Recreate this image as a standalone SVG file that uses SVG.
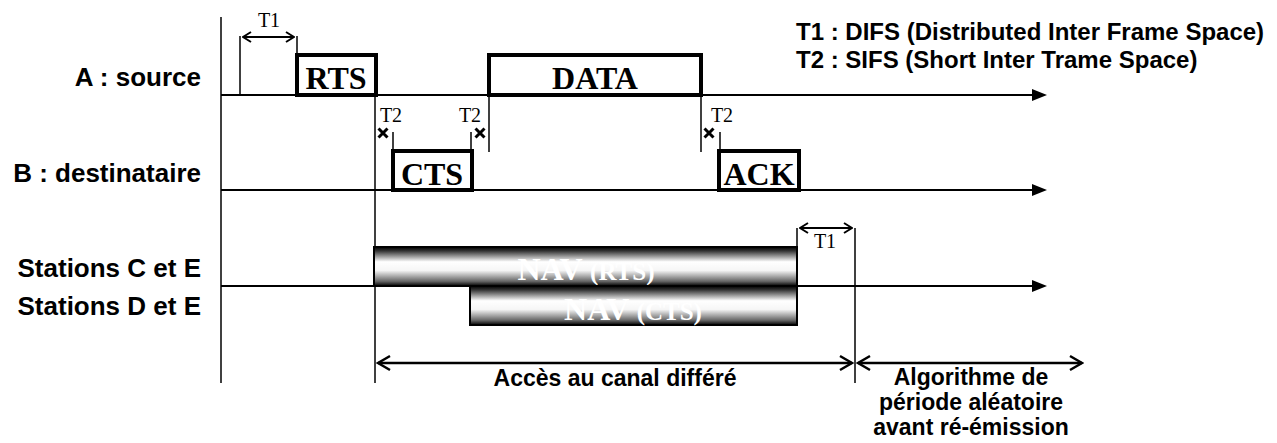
<svg xmlns="http://www.w3.org/2000/svg" width="1277" height="443" viewBox="0 0 1277 443">
<style>
.lbl{font-family:"Liberation Sans",Arial,sans-serif;font-weight:bold;font-size:26px;fill:#000}
.leg{font-family:"Liberation Sans",Arial,sans-serif;font-weight:bold;font-size:24px;fill:#000}
.bot{font-family:"Liberation Sans",Arial,sans-serif;font-weight:bold;font-size:23px;fill:#000;text-anchor:middle}
.frm{font-family:"Liberation Serif","Times New Roman",serif;font-weight:bold;font-size:32px;fill:#000;text-anchor:middle}
.nav{font-family:"Liberation Serif","Times New Roman",serif;font-weight:bold;font-size:32px;fill:#fff;text-anchor:middle}
.tt{font-family:"Liberation Serif","Times New Roman",serif;font-size:20px;fill:#000}
.box{fill:#fff;stroke:#000;stroke-width:4}
.bar{fill:url(#g);stroke:#000;stroke-width:2}
.tl{stroke:#000;stroke-width:2;fill:none}
.vl{stroke:#000;stroke-width:1.5;fill:none}
.dim{stroke:#000;stroke-width:2.5;fill:none}
.dims{stroke:#000;stroke-width:2;fill:none}
.xm{stroke:#000;stroke-width:3;fill:none}
</style>
<defs>
<linearGradient id="g" x1="0" y1="0" x2="0" y2="1">
<stop offset="0" stop-color="#000"/>
<stop offset="0.1" stop-color="#333"/>
<stop offset="0.38" stop-color="#fff"/>
<stop offset="0.6" stop-color="#f6f6f6"/>
<stop offset="0.88" stop-color="#666"/>
<stop offset="1" stop-color="#000"/>
</linearGradient>
<marker id="tri" viewBox="0 0 15 12" refX="0" refY="6" markerWidth="15" markerHeight="12" markerUnits="userSpaceOnUse" orient="auto"><path d="M0,0 L15,6 L0,12z" fill="#000"/></marker>
<marker id="chev" viewBox="0 0 16 18" refX="14" refY="9" markerWidth="16" markerHeight="18" markerUnits="userSpaceOnUse" orient="auto-start-reverse"><path d="M2,2 L14,9 L2,16" fill="none" stroke="#000" stroke-width="2.5"/></marker>
<marker id="chs" viewBox="0 0 10 12" refX="9" refY="6" markerWidth="10" markerHeight="12" markerUnits="userSpaceOnUse" orient="auto-start-reverse"><path d="M1,1 L9,6 L1,11" fill="none" stroke="#000" stroke-width="2"/></marker>
<path id="x" d="M-4.5,-4.5 L4.5,4.5 M-4.5,4.5 L4.5,-4.5"/>
</defs>
<rect width="1277" height="443" fill="#fff"/>

<g id="connectors">
<line class="vl" x1="221" y1="17" x2="221" y2="383"/>
<line class="tl" x1="221" y1="95" x2="1032" y2="95" marker-end="url(#tri)"/>
<line class="tl" x1="221" y1="190" x2="1032" y2="190" marker-end="url(#tri)"/>
<line class="tl" x1="221" y1="286" x2="1032" y2="286" marker-end="url(#tri)"/>
<line class="vl" x1="240" y1="36" x2="240" y2="95"/>
<line class="vl" x1="297" y1="36" x2="297" y2="55"/>
<line class="vl" x1="375" y1="95" x2="375" y2="383"/>
<line class="vl" x1="393" y1="132" x2="393" y2="151"/>
<line class="vl" x1="471" y1="132" x2="471" y2="151"/>
<line class="vl" x1="489" y1="95" x2="489" y2="152"/>
<line class="vl" x1="701" y1="95" x2="701" y2="152"/>
<line class="vl" x1="720" y1="132" x2="720" y2="151"/>
<line class="vl" x1="797" y1="228" x2="797" y2="247"/>
<line class="vl" x1="855" y1="228" x2="855" y2="383"/>
<line class="dims" x1="243" y1="37" x2="294" y2="37" marker-start="url(#chs)" marker-end="url(#chs)"/>
<line class="dims" x1="800" y1="228" x2="852" y2="228" marker-start="url(#chs)" marker-end="url(#chs)"/>
<line class="dim" x1="378" y1="363" x2="852" y2="363" marker-start="url(#chev)" marker-end="url(#chev)"/>
<line class="dim" x1="858" y1="363" x2="1082" y2="363" marker-start="url(#chev)" marker-end="url(#chev)"/>
<use href="#x" class="xm" x="383" y="133"/>
<use href="#x" class="xm" x="480" y="133"/>
<use href="#x" class="xm" x="709" y="133"/>
</g>

<g id="labels">
<text class="lbl" x="201" y="86" text-anchor="end">A : source</text>
<text class="lbl" x="201" y="182" text-anchor="end">B : destinataire</text>
<text class="lbl" x="201" y="277" text-anchor="end">Stations C et E</text>
<text class="lbl" x="201" y="315" text-anchor="end">Stations D et E</text>
</g>

<g id="legend">
<text class="leg" x="796" y="40">T1 : DIFS (Distributed Inter Frame Space)</text>
<text class="leg" x="796" y="68">T2 : SIFS (Short Inter Trame Space)</text>
</g>

<g id="times">
<text class="tt" x="269" y="27" text-anchor="middle">T1</text>
<text class="tt" x="391" y="122" text-anchor="middle">T2</text>
<text class="tt" x="470" y="122" text-anchor="middle">T2</text>
<text class="tt" x="722" y="122" text-anchor="middle">T2</text>
<text class="tt" x="825" y="248" text-anchor="middle">T1</text>
</g>

<g id="rts"><rect class="box" x="297" y="55" width="79" height="40"/><text class="frm" x="336" y="89">RTS</text></g>
<g id="data"><rect class="box" x="489" y="55" width="212" height="40"/><text class="frm" x="595" y="89">DATA</text></g>
<g id="cts"><rect class="box" x="393" y="151" width="79" height="39"/><text class="frm" x="432" y="185">CTS</text></g>
<g id="ack"><rect class="box" x="719" y="151" width="80" height="39"/><text class="frm" x="759" y="185">ACK</text></g>

<g id="nav-rts"><rect class="bar" x="374" y="247" width="423" height="39"/><text class="nav" x="586" y="280">NAV <tspan font-size="25">(RTS)</tspan></text></g>
<g id="nav-cts"><rect class="bar" x="470" y="286" width="327" height="39"/><text class="nav" x="633" y="320">NAV <tspan font-size="25">(CTS)</tspan></text></g>

<g id="bottom-text">
<text class="bot" x="615" y="386" font-size="24">Accès au canal différé</text>
<text class="bot" x="971" y="385">Algorithme de</text>
<text class="bot" x="971" y="410">période aléatoire</text>
<text class="bot" x="971" y="435">avant ré-émission</text>
</g>
</svg>
